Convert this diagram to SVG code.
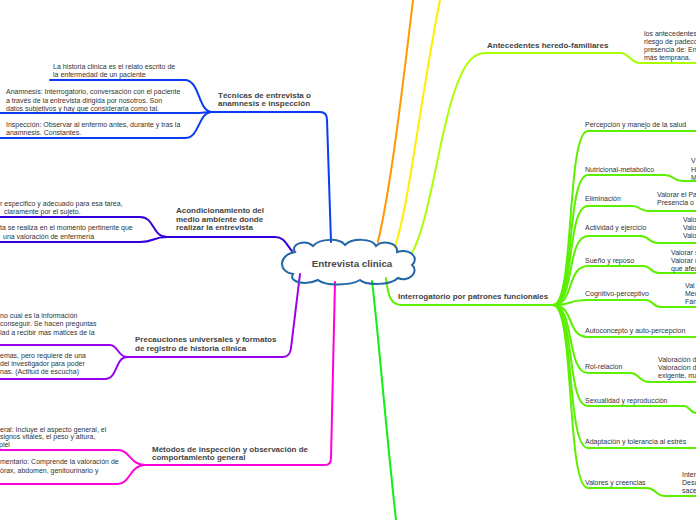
<svg xmlns="http://www.w3.org/2000/svg" width="696" height="520" viewBox="0 0 696 520">
<style>
text{font-family:"Liberation Sans",Arial,sans-serif;fill:#333;font-size:7px}
.t{font-weight:bold;font-size:8px;fill:#444}
.c{font-weight:bold;font-size:9.8px;fill:#484848}
path{fill:none;stroke-width:2;stroke-linecap:round}
.bl{stroke:#0a3cf5}.in{stroke:#3300dd}.pu{stroke:#9900ee}.mg{stroke:#ff00dd}
.or{stroke:#ff9900}.ye{stroke:#ffee00}.li{stroke:#aaff00}.gr{stroke:#5af000}.g2{stroke:#11ee11}
</style>
<rect width="696" height="520" fill="#fff"/>
<g id="connectors">
<path class="bl" d="M210,112 L320,112 Q327,112 327,120 L331,242"/>
<path class="bl" d="M50,80 L185,80 C200,80 198,112 212,112"/>
<path class="bl" d="M0,113 L195,113 C203,113 205,112 212,112"/>
<path class="bl" d="M0,138 L185,138 C200,138 198,112 212,112"/>
<path class="in" d="M165,237 L275,237 C284,237 286,244 292,251"/>
<path class="in" d="M0,217 L140,217 C155,217 152,237 167,237"/>
<path class="in" d="M0,242 L140,242 C155,242 152,237 167,237"/>
<path class="pu" d="M126,357 L283,357 Q290,357 291,348 L300,274"/>
<path class="pu" d="M0,345 L110,345 C118,345 118,357 127,357"/>
<path class="pu" d="M0,379 L105,379 C118,379 115,357 127,357"/>
<path class="mg" d="M143,465 L325,465 Q331,465 331,458 L335,282"/>
<path class="mg" d="M0,450 L118,450 C130,450 130,465 145,465"/>
<path class="mg" d="M0,484 L118,484 C130,484 130,465 145,465"/>
<path class="or" d="M378,242 C390,190 400,110 413,0"/>
<path class="ye" d="M395,247 C410,200 420,100 440,0"/>
<path class="li" d="M412,253 C430,220 440,130 455,90 C462,70 470,53 485,53 L620,53 C630,53 630,63 640,63 L696,63"/>
<path class="g2" d="M372,281 C378,330 385,420 396,520"/>
<path class="gr" d="M386,278 C388,295 390,305 402,305 L553,305"/>
<path class="gr" d="M553,305 C575,305 566,131 588,131 L696,131"/>
<path class="gr" d="M553,305 C575,305 566,175 588,175 L665,175 C674,175 673,181 682,181 L696,181"/>
<path class="gr" d="M553,305 C575,305 566,206 588,206 L632,206 C641,206 639,211 648,211 L696,211"/>
<path class="gr" d="M553,305 C575,305 566,236 588,236 L640,236 C650,236 648,243 658,243 L696,243"/>
<path class="gr" d="M553,305 C575,305 566,266 588,266 L643,266 C652,266 650,273 659,273 L696,273"/>
<path class="gr" d="M553,305 C575,305 566,300 588,300 L645,300 C654,300 652,307 661,307 L696,307"/>
<path class="gr" d="M553,305 C575,305 566,337 588,337 L696,337"/>
<path class="gr" d="M553,305 C575,305 566,373 588,373 L630,373 C640,373 638,382 650,382 L696,382"/>
<path class="gr" d="M553,305 C575,305 566,406 588,406 L684,406 C690,406 690,413 696,413"/>
<path class="gr" d="M553,305 C575,305 566,448 588,448 L696,448"/>
<path class="gr" d="M553,305 C575,305 566,488 588,488 L647,488 C656,488 655,496 665,496 L696,496"/>
</g>
<g id="central">
<path d="M295,252 C290,244 305,239 313,246 C320,238 340,238 345,245 C352,238 372,238 376,246 C382,240 398,242 397,252 C410,248 420,258 412,265 C420,272 408,283 398,278 C390,286 365,285 360,280 C350,286 325,286 318,280 C305,286 288,282 293,274 C278,272 278,255 295,252 Z" fill="#fff" stroke="#2366a8" stroke-width="2"/>
<text class="c" x="352" y="267" text-anchor="middle">Entrevista clinica</text>
</g>
<g id="tecnicas">
<text class="t" x="218" y="97.5">Técnicas de entrevista o</text>
<text class="t" x="218" y="106">anamnesis e inspección</text>
</g>
<g id="historia">
<text x="53" y="69">La historia clinica es el relato escrito de</text>
<text x="53" y="77">la enfermedad de un paciente</text>
</g>
<g id="anamnesis">
<text x="6" y="94">Anamnesis: Interrogatorio, conversación con el paciente</text>
<text x="6" y="102.5">a través de la entrevista dirigida por nosotros. Son</text>
<text x="6" y="111">datos subjetivos y hay que consideraria como tal.</text>
</g>
<g id="inspeccion">
<text x="6" y="127">Inspección: Observar al enfermo antes, durante y tras la</text>
<text x="6" y="135">anamnesis. Constantes.</text>
</g>
<g id="acondicionamiento">
<text class="t" x="176" y="213">Acondicionamiento del</text>
<text class="t" x="176" y="221.5">medio ambiente donde</text>
<text class="t" x="176" y="230">realizar la entrevista</text>
</g>
<g id="acond1">
<text x="0" y="206">r especifico y adecuado para esa tarea,</text>
<text x="4" y="214">claramente por el sujeto.</text>
</g>
<g id="acond2">
<text x="0" y="230">ta se realiza en el momento pertinente que</text>
<text x="3" y="238.5">una valoración de enfermería</text>
</g>
<g id="precauciones">
<text class="t" x="135" y="341.5">Precauciones universales y formatos</text>
<text class="t" x="135" y="350.5">de registro de historia clinica</text>
</g>
<g id="prec1">
<text x="0" y="318">no cual es la información</text>
<text x="0" y="326">conseguir. Se hacen preguntas</text>
<text x="0" y="334.5">iad a recibir mas matices de la</text>
</g>
<g id="prec2">
<text x="0" y="357.5">emas, pero requiere de una</text>
<text x="0" y="366">del investigador para poder</text>
<text x="0" y="374">nas. (Actitud de escucha)</text>
</g>
<g id="metodos">
<text class="t" x="152" y="451.5">Métodos de inspección y observación de</text>
<text class="t" x="152" y="460">comportamiento general</text>
</g>
<g id="met1">
<text x="0" y="431.5">eral: Incluye el aspecto general, el</text>
<text x="0" y="439">signos vitales, el peso y altura,</text>
<text x="-1" y="447">piel</text>
</g>
<g id="met2">
<text x="0" y="464">mentario: Comprende la valoración de</text>
<text x="0" y="472.5">órax, abdomen, genitourinario y</text>
</g>
<g id="antecedentes">
<text class="t" x="487" y="47.5">Antecedentes heredo-familiares</text>
</g>
<g id="antec1">
<text x="644" y="35.5">los antecedentes</text>
<text x="644" y="43.5">riesgo de padeco</text>
<text x="644" y="51.5">presencia de: En</text>
<text x="644" y="59.5">más temprana.</text>
</g>
<g id="interrogatorio">
<text class="t" x="398" y="299">Interrogatorio por patrones funcionales</text>
</g>
<g id="percepcion"><text x="585" y="127">Percepción y manejo de la salud</text></g>
<g id="nutricional"><text x="585" y="171.5">Nutricional-metabolico</text></g>
<g id="nutri1"><text x="691" y="163">V</text><text x="691" y="172">H</text><text x="691" y="180">M</text></g>
<g id="eliminacion"><text x="585" y="201">Eliminación</text></g>
<g id="elim1"><text x="657" y="196.5">Valorar el Pa</text><text x="657" y="205">Presencia o</text></g>
<g id="actividad"><text x="585" y="229.5">Actividad y ejercicio</text></g>
<g id="activ1"><text x="683" y="221.5">Valo</text><text x="683" y="229.5">Valo</text><text x="683" y="237.5">Valo</text></g>
<g id="sueno"><text x="585" y="263">Sueño y reposo</text></g>
<g id="sueno1"><text x="671" y="255">Valorar s</text><text x="671" y="263">Valorar r</text><text x="671" y="271">que afec</text></g>
<g id="cognitivo"><text x="585" y="295.5">Cognitivo-perceptivo</text></g>
<g id="cogn1"><text x="685" y="287.5">Val</text><text x="685" y="295.5">Med</text><text x="685" y="304">Fán</text></g>
<g id="autoconcepto"><text x="585" y="332.5">Autoconcepto y auto-percepcion</text></g>
<g id="rol"><text x="585" y="369">Rol-relacion</text></g>
<g id="rol1"><text x="658" y="361.5">Valoración d</text><text x="658" y="369.5">Valoración d</text><text x="658" y="378">exigente, ma</text></g>
<g id="sexualidad"><text x="585" y="403">Sexualidad y reproducción</text></g>
<g id="adaptacion"><text x="585" y="444">Adaptación y tolerancia al estrés</text></g>
<g id="valores"><text x="585" y="485">Valores y creencias</text></g>
<g id="val1"><text x="682" y="476.5">Inter</text><text x="682" y="484.5">Desc</text><text x="682" y="493">sace</text></g>
</svg>
